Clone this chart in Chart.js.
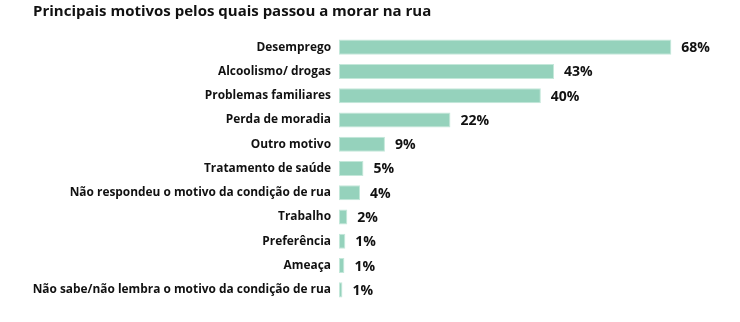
<!DOCTYPE html>
<html>
<head>
<meta charset="utf-8">
<script src="https://cdn.jsdelivr.net/npm/chart.js@4/dist/chart.umd.min.js"></script>
<style>
html,body{margin:0;padding:0;background:#fff;}
#wrap{position:relative;width:740px;height:322px;}
</style>
</head>
<body>
<div id="wrap"><canvas id="c" width="740" height="322"></canvas></div>
<script>
const titleText = "Principais motivos pelos quais passou a morar na rua";
const categories = [
  "Desemprego",
  "Alcoolismo/ drogas",
  "Problemas familiares",
  "Perda de moradia",
  "Outro motivo",
  "Tratamento de saúde",
  "Não respondeu o motivo da condição de rua",
  "Trabalho",
  "Preferência",
  "Ameaça",
  "Não sabe/não lembra o motivo da condição de rua"
];
const values = [68, 44, 41.3, 22.8, 9.4, 5, 4.3, 1.7, 1.3, 1.1, 0.7];
const valueLabels = ["68%", "43%", "40%", "22%", "9%", "5%", "4%", "2%", "1%", "1%", "1%"];
const xMax = 80;

const FONT = "'Open Sans', 'DejaVu Sans', sans-serif";

const labelPlugin = {
  id: 'valueLabels',
  afterDatasetsDraw(chart) {
    const ctx = chart.ctx;
    const meta = chart.getDatasetMeta(0);
    ctx.save();
    ctx.font = "bold 14px " + FONT;
    ctx.fillStyle = "#111";
    ctx.textAlign = "left";
    ctx.textBaseline = "middle";
    meta.data.forEach((bar, i) => {
      ctx.fillText(valueLabels[i], bar.x + 10, bar.y + 1);
    });
    ctx.restore();
  }
};

const titlePlugin = {
  id: 'leftTitle',
  afterDraw(chart) {
    const ctx = chart.ctx;
    ctx.save();
    ctx.font = "bold 15px " + FONT;
    ctx.fillStyle = "#111";
    ctx.textAlign = "left";
    ctx.textBaseline = "alphabetic";
    ctx.fillText(titleText, 33, 16);
    ctx.restore();
  }
};

new Chart(document.getElementById('c'), {
  type: 'bar',
  data: {
    labels: categories,
    datasets: [{
      data: values,
      backgroundColor: '#95D2BC',
      borderColor: '#C4E8DA',
      borderWidth: 1,
      borderSkipped: false,
      categoryPercentage: 1,
      barPercentage: 0.62
    }]
  },
  options: {
    indexAxis: 'y',
    responsive: false,
    animation: false,
    layout: { padding: { left: 0, right: 10, top: 35, bottom: 20 } },
    plugins: {
      legend: { display: false },
      tooltip: { enabled: false },
      title: { display: false }
    },
    scales: {
      x: {
        display: false,
        min: 0,
        max: xMax
      },
      y: {
        grid: { display: false, drawTicks: false },
        border: { display: false },
        ticks: {
          color: '#111',
          font: { family: FONT, size: 11.9, weight: 'bold' },
          padding: 8,
          autoSkip: false
        },
        afterFit(scale) { scale.width = 339; }
      }
    }
  },
  plugins: [labelPlugin, titlePlugin]
});
</script>
</body>
</html>
